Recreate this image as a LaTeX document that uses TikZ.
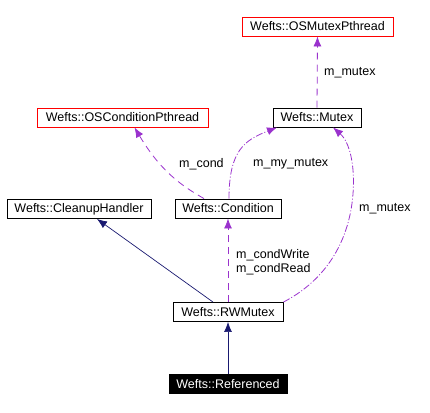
\documentclass[tikz,border=0pt]{standalone}
\usepackage{fontspec}
\setmainfont{Liberation Sans}
\usetikzlibrary{arrows.meta,positioning}

\definecolor{usecol}{RGB}{154,50,205}
\definecolor{inhcol}{RGB}{25,25,112}

\tikzset{
  cls/.style={draw=black,fill=white,line width=0.9pt,inner sep=0pt,minimum height=19pt,font=\fontsize{12.5}{14}\selectfont},
  oscls/.style={cls,draw=red},
  refcls/.style={cls,fill=black,text=white,draw=black},
  lbl/.style={anchor=west,inner sep=0pt,font=\fontsize{12.5}{14.5}\selectfont,align=left},
  inherit/.style={draw=inhcol,line width=0.7pt,-{Latex[length=10pt,width=8pt]}},
  usedash/.style={draw=usecol,line width=0.8pt,dash pattern=on 7pt off 5pt,-{Latex[length=10pt,width=8pt]}},
  usedot/.style={draw=usecol,line width=0.8pt,dash pattern=on 7pt off 2pt on 1pt off 2pt,-{Latex[length=10pt,width=8pt]}}
}

\begin{document}
\begin{tikzpicture}[x=1pt,y=-1pt]
\useasboundingbox (0,0) rectangle (430,412);
% classes
\node[oscls,minimum width=151pt] (osmutex) at (317.5,26.5) {Wefts::OSMutexPthread};
\node[oscls,minimum width=171pt] (oscond) at (122.5,117.5) {Wefts::OSConditionPthread};
\node[cls,minimum width=88pt] (mutex) at (317,117.5) {Wefts::Mutex};
\node[cls,minimum width=144pt] (cleanup) at (79,209) {Wefts::CleanupHandler};
\node[cls,minimum width=106pt] (cond) at (228,208.5) {Wefts::Condition};
\node[cls,minimum width=110pt] (rwmutex) at (228,312) {Wefts::RWMutex};
\node[refcls,minimum width=118pt] (ref) at (228,384) {Wefts::Referenced};
% inheritance
\draw[inherit] (ref) -- (rwmutex);
\draw[inherit] ([xshift=-15pt]rwmutex.north) -- ([xshift=18pt]cleanup.south);
% usage
\draw[usedash] (mutex.north) -- (osmutex.south);
\draw[usedash] ([xshift=-24pt]cond.north) .. controls (180,185) and (160,170) .. ([xshift=12pt]oscond.south);
\draw[usedot] ([xshift=1pt]cond.north) .. controls (229,150) and (245,140) .. ([xshift=-40pt]mutex.south);
\draw[usedash] (rwmutex.north) -- (cond.south);
\draw[usedot] (rwmutex.north east) .. controls (345,270) and (356,210) .. (353,170)
  .. controls (351,148) and (345,138) .. ([xshift=16pt]mutex.south);
% labels
\node[lbl] (lmutexa) at (324,73) {m\_mutex};
\node[lbl] (lcond) at (179,164) {m\_cond};
\node[lbl] (lmymutex) at (253,164) {m\_my\_mutex};
\node[lbl] (lmutexb) at (359,209) {m\_mutex};
\node[lbl] (lcondrw) at (236,262) {m\_condWrite\\m\_condRead};
\end{tikzpicture}
\end{document}
